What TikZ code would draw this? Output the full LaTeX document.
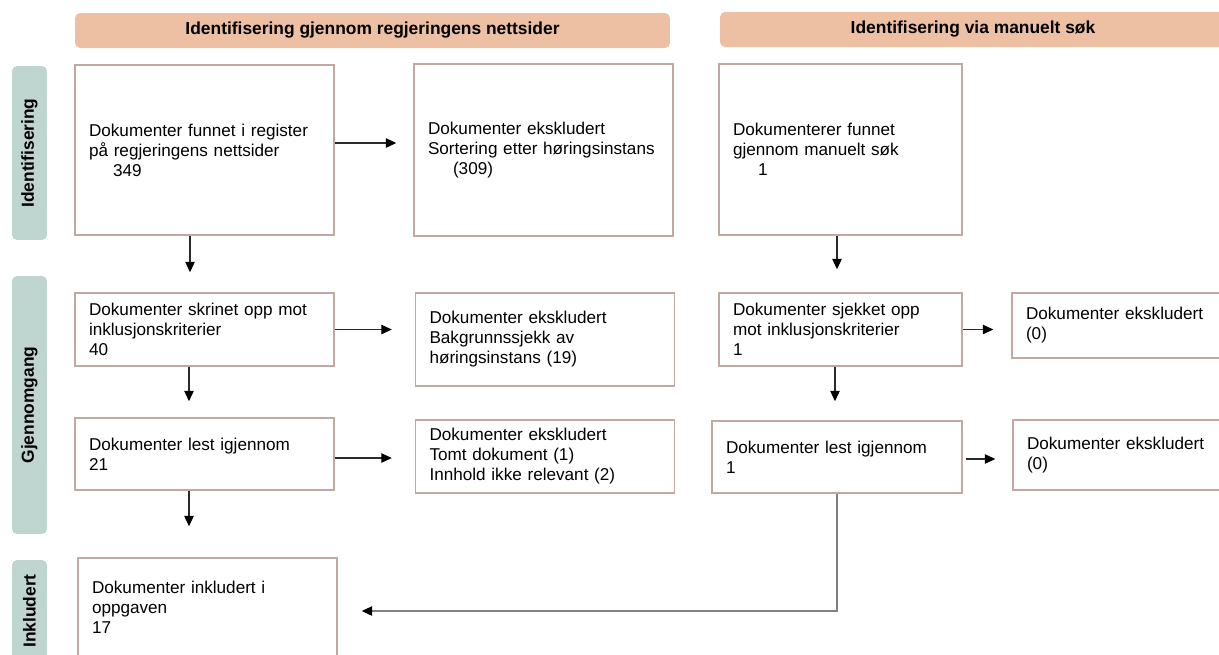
\documentclass[tikz,border=0pt]{standalone}
\usepackage{fontspec}
\setmainfont{Liberation Sans}
\usetikzlibrary{arrows.meta}

\definecolor{headfill}{HTML}{EDC0A3}
\definecolor{phasefill}{HTML}{BFD5CF}
\definecolor{boxline}{HTML}{BFA9A0}
\definecolor{flowline}{HTML}{2A2A2A}

\begin{document}
\begin{tikzpicture}[
  x=0.02cm, y=-0.02cm,
  every node/.style={font=\fontsize{9.75}{11.4}\selectfont},
  header/.style={fill=headfill, rounded corners=0.1cm, minimum height=0.7cm,
    font=\fontsize{9.9}{11}\selectfont\bfseries},
  phase/.style={fill=phasefill, rounded corners=0.1cm, minimum height=0.7cm,
    rotate=90, font=\fontsize{9.9}{11}\selectfont\bfseries},
  docbox/.style={draw=boxline, fill=white, line width=0.85pt, align=left,
    inner xsep=0.28cm, inner ysep=0pt, text width=4.62cm},
  flow/.style={draw=flowline, line width=0.6pt,
    -{Triangle[length=0.21cm, width=0.19cm, color=black]}}
]
\useasboundingbox (0,0) rectangle (1219,654);

% Headers and phase labels
\node[header, minimum width=11.9cm] (hweb) at (372.5,30.5)
  {Identifisering gjennom regjeringens nettsider};
\node[header, minimum width=10.12cm] (hman) at (973,29.5)
  {Identifisering via manuelt søk};

\node[phase, minimum width=3.48cm] (pid) at (29.5,153) {Identifisering};
\node[phase, minimum width=5.16cm] (pgj) at (29.5,405) {Gjennomgang};
\node[phase, minimum width=2.04cm] (pin) at (29.5,611) {Inkludert};

% Left column: government web pages
\node[docbox, minimum height=3.4cm] (found) at (204.5,150)
  {Dokumenter funnet i register\\på regjeringens nettsider\\\hspace*{0.48cm}349};
\node[docbox, minimum height=3.44cm] (exsort) at (543.5,150)
  {Dokumenter ekskludert\\Sortering etter høringsinstans\\\hspace*{0.5cm}(309)};
\node[docbox, minimum height=1.46cm] (screen) at (204.5,329.5)
  {Dokumenter skrinet opp mot\\inklusjonskriterier\\40};
\node[docbox, minimum height=1.86cm] (exback) at (545,339.5)
  {Dokumenter ekskludert\\Bakgrunnssjekk av\\høringsinstans (19)};
\node[docbox, minimum height=1.44cm] (read) at (204.5,454)
  {Dokumenter lest igjennom\\21};
\node[docbox, minimum height=1.46cm] (exread) at (545,456.5)
  {Dokumenter ekskludert\\Tomt dokument (1)\\Innhold ikke relevant (2)};
\node[docbox, minimum height=1.96cm] (incl) at (207.5,607)
  {Dokumenter inkludert i\\oppgaven\\17};

% Right column: manual search
\node[docbox, text width=4.3cm, minimum height=3.42cm] (manfound) at (840.5,149.5)
  {Dokumenterer funnet\\gjennom manuelt søk\\\hspace*{0.5cm}1};
\node[docbox, text width=4.3cm, minimum height=1.46cm] (mancheck) at (840.5,329.5)
  {Dokumenter sjekket opp\\mot inklusjonskriterier\\1};
\node[docbox, text width=3.8cm, minimum height=1.3cm] (manexa) at (1121,325.5)
  {Dokumenter ekskludert\\(0)};
\node[docbox, text width=4.44cm, minimum height=1.44cm] (manread) at (837,457)
  {Dokumenter lest igjennom\\1};
\node[docbox, text width=3.78cm, minimum height=1.4cm] (manexb) at (1121.5,455)
  {Dokumenter ekskludert\\(0)};

% Flow arrows, left column
\draw[flow, shorten >=0.34cm] ([yshift=0.14cm]found.east) -- ([yshift=0.14cm]found.east -| exsort.west);
\draw[flow, shorten >=0.4cm] ([xshift=-0.29cm]found.south) -- ([xshift=-0.29cm]found.south |- screen.north);
\draw[flow, shorten >=0.46cm] (screen.east) -- (screen.east -| exback.west);
\draw[flow, shorten >=0.32cm] ([xshift=-0.31cm]screen.south) -- ([xshift=-0.31cm]screen.south |- read.north);
\draw[flow, shorten >=0.46cm] ([yshift=-0.08cm]read.east) -- ([yshift=-0.08cm]read.east -| exread.west);
\draw[flow, shorten >=0.62cm] ([xshift=-0.31cm]read.south) -- ([xshift=-0.31cm]read.south |- incl.north);

% Flow arrows, right column
\draw[flow, shorten >=0.46cm] ([xshift=-0.07cm]manfound.south) -- ([xshift=-0.07cm]manfound.south |- mancheck.north);
\draw[flow, shorten >=0.36cm] (mancheck.east) -- (mancheck.east -| manexa.west);
\draw[flow, shorten >=0.38cm] ([xshift=-0.11cm]mancheck.south) -- ([xshift=-0.11cm]mancheck.south |- manread.north);
\draw[flow, shorten <=0.06cm, shorten >=0.34cm] ([yshift=-0.04cm]manread.east) -- ([yshift=-0.04cm]manread.east -| manexb.west);
\draw[flow, draw=black!50, shorten >=0.48cm] (manread.south) |- ([yshift=-0.08cm]incl.east);

\end{tikzpicture}
\end{document}
